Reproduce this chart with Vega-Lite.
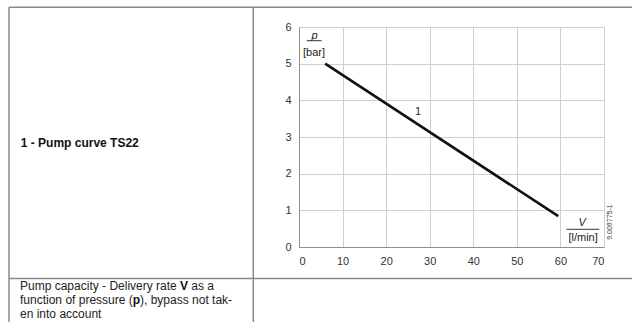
{
  "$schema": "https://vega.github.io/schema/vega-lite/v6.json",
  "width": 305,
  "height": 220,
  "autosize": "none",
  "padding": {"left": 299, "top": 27, "right": 28, "bottom": 75},
  "background": "white",
  "config": {
    "font": "Liberation Sans",
    "view": {"stroke": "#9a9a9a", "strokeWidth": 1},
    "axis": {
      "grid": true,
      "gridColor": "#cfcfcf",
      "gridWidth": 1,
      "domainColor": "#8f8f8f",
      "domainWidth": 1,
      "ticks": false,
      "labelFont": "Liberation Sans",
      "labelFontSize": 11,
      "labelColor": "#333333",
      "labelPadding": 8
    }
  },
  "datasets": {
    "curve": [{"x": 6.0, "y": 5.0}, {"x": 59.5, "y": 0.84}],
    "table": [
      {"x": -66.56, "x2": 76.43, "y": 6.537, "y2": 6.537},
      {"x": -66.56, "x2": -66.56, "y": 6.537, "y2": -2.045},
      {"x": -10.49, "x2": -10.49, "y": 6.537, "y2": -2.045},
      {"x": -66.56, "x2": 76.43, "y": -0.86, "y2": -0.86}
    ],
    "fraction": [
      {"x": 1.77, "x2": 5.21, "y": 5.626, "y2": 5.626},
      {"x": 61.4, "x2": 68.9, "y": 0.483, "y2": 0.483}
    ],
    "italicLabels": [
      {"x": 3.6, "y": 5.76, "t": "p"},
      {"x": 65.0, "y": 0.65, "t": "V"}
    ],
    "plainLabels": [
      {"x": 27.3, "y": 3.68, "t": "1"},
      {"x": 3.44, "y": 5.3, "t": "[bar]"},
      {"x": 65.2, "y": 0.254, "t": "[l/min]"}
    ],
    "docId": [{"x": 70, "y": 0.68, "t": "9.009775-1"}],
    "cellTitle": [{"x": -63.87, "y": 2.828, "t": "1 - Pump curve TS22"}],
    "cellNote": [
      {"x": -64.03, "y": -1.064, "t": "Pump capacity - Delivery rate"},
      {"x": -24.71, "y": -1.064, "t": "as a"},
      {"x": -64.03, "y": -1.445, "t": "function of pressure ("},
      {"x": -36.49, "y": -1.445, "t": "), bypass not tak-"},
      {"x": -64.03, "y": -1.827, "t": "en into account"}
    ],
    "cellNoteBold": [
      {"x": -27.31, "y": -1.064, "t": "V"},
      {"x": -38.17, "y": -1.445, "t": "p"}
    ]
  },
  "encoding": {
    "x": {
      "field": "x",
      "type": "quantitative",
      "scale": {"domain": [0, 70], "nice": false, "zero": false},
      "axis": {"values": [0, 10, 20, 30, 40, 50, 60, 70], "title": null}
    },
    "y": {
      "field": "y",
      "type": "quantitative",
      "scale": {"domain": [0, 6], "nice": false, "zero": false},
      "axis": {"values": [0, 1, 2, 3, 4, 5, 6], "title": null}
    }
  },
  "layer": [
    {
      "data": {"name": "table"},
      "mark": {"type": "rule", "color": "#8a8a8a", "strokeWidth": 1.5},
      "encoding": {"x2": {"field": "x2"}, "y2": {"field": "y2"}}
    },
    {
      "data": {"name": "curve"},
      "mark": {"type": "line", "color": "#111111", "strokeWidth": 2.6},
      "encoding": {}
    },
    {
      "data": {"name": "fraction"},
      "mark": {"type": "rule", "color": "#333333", "strokeWidth": 1},
      "encoding": {"x2": {"field": "x2"}, "y2": {"field": "y2"}}
    },
    {
      "data": {"name": "italicLabels"},
      "mark": {"type": "text", "fontStyle": "italic", "fontSize": 11, "color": "#222222", "align": "center", "baseline": "middle"},
      "encoding": {"text": {"field": "t"}}
    },
    {
      "data": {"name": "plainLabels"},
      "mark": {"type": "text", "fontSize": 11, "color": "#222222", "align": "center", "baseline": "middle"},
      "encoding": {"text": {"field": "t"}}
    },
    {
      "data": {"name": "docId"},
      "mark": {"type": "text", "fontSize": 7, "color": "#333333", "angle": 270, "align": "center", "baseline": "middle", "dx": 0, "dy": 6},
      "encoding": {"text": {"field": "t"}}
    },
    {
      "data": {"name": "cellTitle"},
      "mark": {"type": "text", "fontSize": 12, "fontWeight": "bold", "color": "#111111", "align": "left", "baseline": "middle"},
      "encoding": {"text": {"field": "t"}}
    },
    {
      "data": {"name": "cellNote"},
      "mark": {"type": "text", "fontSize": 12, "color": "#222222", "align": "left", "baseline": "middle"},
      "encoding": {"text": {"field": "t"}}
    },
    {
      "data": {"name": "cellNoteBold"},
      "mark": {"type": "text", "fontSize": 12, "fontWeight": "bold", "color": "#111111", "align": "left", "baseline": "middle"},
      "encoding": {"text": {"field": "t"}}
    }
  ]
}
